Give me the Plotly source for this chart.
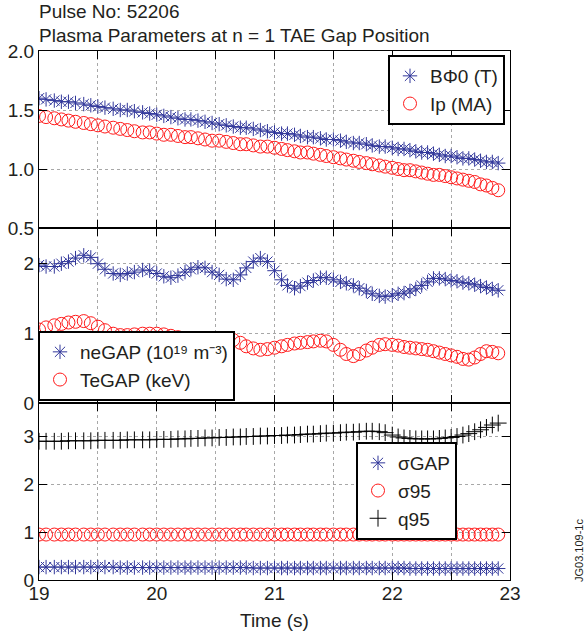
import plotly.graph_objects as go

# ---------------- data ----------------
time_s = [19.00, 19.06, 19.13, 19.19, 19.25, 19.31, 19.38, 19.44, 19.50, 19.56, 19.63, 19.69, 19.75, 19.81, 19.88, 19.94,
          20.00, 20.06, 20.12, 20.18, 20.24, 20.29, 20.35, 20.41, 20.47, 20.53, 20.59, 20.65, 20.71, 20.76, 20.82, 20.88, 20.94,
          21.00, 21.06, 21.11, 21.17, 21.22, 21.28, 21.33, 21.39, 21.44, 21.50, 21.56, 21.61, 21.67, 21.72, 21.78, 21.83, 21.89, 21.94,
          22.00, 22.05, 22.10, 22.15, 22.20, 22.25, 22.30, 22.35, 22.40, 22.45, 22.50, 22.55, 22.60, 22.65, 22.70, 22.75, 22.80, 22.85, 22.90]

b_phi0 = [1.60, 1.59, 1.58, 1.57, 1.57, 1.56, 1.55, 1.54, 1.53, 1.52, 1.51, 1.50, 1.50, 1.49, 1.48, 1.47,
          1.46, 1.45, 1.44, 1.43, 1.42, 1.42, 1.41, 1.40, 1.39, 1.38, 1.37, 1.36, 1.35, 1.35, 1.34, 1.33, 1.32,
          1.31, 1.30, 1.30, 1.29, 1.28, 1.27, 1.27, 1.26, 1.25, 1.25, 1.24, 1.23, 1.22, 1.22, 1.21, 1.20, 1.19, 1.19,
          1.18, 1.17, 1.17, 1.16, 1.15, 1.14, 1.14, 1.13, 1.12, 1.11, 1.11, 1.10, 1.09, 1.09, 1.08, 1.07, 1.06, 1.06, 1.05]

ip_ma = [1.45, 1.44, 1.43, 1.42, 1.41, 1.40, 1.39, 1.38, 1.37, 1.36, 1.35, 1.34, 1.33, 1.32, 1.31, 1.31,
         1.30, 1.29, 1.29, 1.28, 1.27, 1.27, 1.26, 1.25, 1.24, 1.24, 1.23, 1.22, 1.21, 1.21, 1.20, 1.19, 1.19,
         1.18, 1.17, 1.16, 1.15, 1.14, 1.14, 1.13, 1.12, 1.11, 1.10, 1.09, 1.08, 1.07, 1.06, 1.05, 1.04, 1.03, 1.02,
         1.01, 1.00, 0.99, 0.99, 0.98, 0.97, 0.96, 0.95, 0.95, 0.94, 0.93, 0.92, 0.91, 0.90, 0.89, 0.87, 0.86, 0.84, 0.82]

ne_gap = [1.97, 1.95, 1.95, 1.99, 2.02, 2.07, 2.11, 2.08, 1.99, 1.91, 1.85, 1.83, 1.85, 1.87, 1.90, 1.89,
          1.85, 1.81, 1.79, 1.82, 1.87, 1.91, 1.94, 1.93, 1.87, 1.83, 1.77, 1.76, 1.83, 1.93, 2.02, 2.07, 2.02,
          1.89, 1.76, 1.68, 1.64, 1.67, 1.72, 1.75, 1.79, 1.79, 1.76, 1.73, 1.71, 1.68, 1.64, 1.60, 1.56, 1.53, 1.52,
          1.54, 1.56, 1.57, 1.60, 1.63, 1.68, 1.73, 1.78, 1.78, 1.77, 1.75, 1.74, 1.72, 1.71, 1.69, 1.67, 1.65, 1.63, 1.61]

te_gap = [1.05, 1.08, 1.11, 1.13, 1.15, 1.16, 1.17, 1.14, 1.09, 1.04, 0.99, 0.97, 0.97, 0.98, 0.99, 0.99,
          0.99, 0.98, 0.96, 0.94, 0.92, 0.90, 0.89, 0.89, 0.90, 0.91, 0.92, 0.90, 0.86, 0.81, 0.78, 0.76, 0.77,
          0.79, 0.81, 0.83, 0.85, 0.86, 0.87, 0.88, 0.89, 0.88, 0.83, 0.76, 0.70, 0.67, 0.70, 0.75, 0.79, 0.83, 0.84,
          0.83, 0.82, 0.80, 0.79, 0.78, 0.77, 0.76, 0.74, 0.72, 0.70, 0.68, 0.66, 0.63, 0.62, 0.65, 0.70, 0.74, 0.73, 0.71]

sigma_gap = [0.27, 0.27, 0.27, 0.27, 0.27, 0.27, 0.27, 0.27, 0.27, 0.27, 0.27, 0.26, 0.26, 0.26, 0.26, 0.26,
             0.26, 0.26, 0.26, 0.26, 0.26, 0.26, 0.26, 0.26, 0.26, 0.26, 0.26, 0.26, 0.26, 0.26, 0.25, 0.25, 0.25,
             0.25, 0.25, 0.25, 0.25, 0.25, 0.25, 0.25, 0.25, 0.25, 0.25, 0.25, 0.25, 0.25, 0.25, 0.25, 0.25, 0.25, 0.25,
             0.25, 0.25, 0.25, 0.24, 0.24, 0.24, 0.24, 0.24, 0.24, 0.24, 0.24, 0.24, 0.24, 0.24, 0.24, 0.24, 0.24, 0.24, 0.24]

sigma_95 = [0.95, 0.95, 0.95, 0.95, 0.95, 0.95, 0.95, 0.95, 0.95, 0.95, 0.95, 0.95, 0.95, 0.95, 0.95, 0.95,
            0.95, 0.95, 0.95, 0.95, 0.95, 0.95, 0.95, 0.95, 0.95, 0.95, 0.95, 0.95, 0.95, 0.95, 0.95, 0.95, 0.95,
            0.95, 0.95, 0.95, 0.95, 0.95, 0.95, 0.95, 0.95, 0.95, 0.95, 0.95, 0.95, 0.95, 0.95, 0.95, 0.95, 0.95, 0.95,
            0.95, 0.95, 0.95, 0.95, 0.95, 0.95, 0.95, 0.95, 0.95, 0.95, 0.95, 0.95, 0.95, 0.95, 0.95, 0.95, 0.95, 0.95, 0.95]

q95 = [2.90, 2.90, 2.90, 2.90, 2.91, 2.91, 2.91, 2.91, 2.92, 2.92, 2.92, 2.92, 2.93, 2.93, 2.93, 2.93,
       2.94, 2.94, 2.94, 2.95, 2.95, 2.96, 2.96, 2.97, 2.97, 2.98, 2.98, 2.99, 2.99, 3.00, 3.00, 3.01, 3.01,
       3.02, 3.02, 3.03, 3.03, 3.04, 3.05, 3.05, 3.06, 3.07, 3.07, 3.08, 3.09, 3.09, 3.10, 3.11, 3.11, 3.10, 3.08,
       3.03, 2.99, 2.97, 2.96, 2.95, 2.95, 2.95, 2.95, 2.96, 2.97, 2.98, 3.00, 3.03, 3.06, 3.10, 3.14, 3.19, 3.24, 3.28]

x_tickvals = [19, 20, 21, 22, 23]
x_minor = [19.5, 20.5, 21.5, 22.5]
top_ticks = [0.5, 1.0, 1.5, 2.0]
top_ticktext = ["0.5", "1.0", "1.5", "2.0"]
mid_ticks = [0, 1, 2]
bot_ticks = [0, 1, 2, 3]

# ---------------- style ----------------
BLUE = "#30369a"
RED = "#ff1a1a"
TXT = "#231f20"
FONT = "Liberation Sans, Arial, Helvetica, sans-serif"

W, H = 585, 640
ML, MR, MT, MB = 39, 75, 51, 60
PH = H - MT - MB
PW = W - ML - MR


def py(ypx):
    return (H - MB - ypx) / PH


def px(xpx):
    return (xpx - ML) / PW


d_bot = [0, py(403)]
d_mid = [py(403), py(228)]
d_top = [py(228), 1]

fig = go.Figure()

star = dict(symbol="asterisk-open", size=12, color=BLUE, line=dict(color=BLUE, width=1))
circ = dict(symbol="circle-open", size=13, color=RED, line=dict(color=RED, width=1))
plus = dict(symbol="cross-thin-open", size=12, color="black", line=dict(color="black", width=1))

fig.add_trace(go.Scatter(x=time_s, y=b_phi0, mode="markers", marker=star, name="BΦ0 (T)",
                         xaxis="x", yaxis="y", legend="legend"))
fig.add_trace(go.Scatter(x=time_s, y=ip_ma, mode="markers", marker=circ, name="Ip (MA)",
                         xaxis="x", yaxis="y", legend="legend"))

fig.add_trace(go.Scatter(x=time_s, y=ne_gap, mode="markers", marker=star,
                         name="neGAP (10¹⁹ m⁻³)",
                         xaxis="x2", yaxis="y2", legend="legend2"))
fig.add_trace(go.Scatter(x=time_s, y=te_gap, mode="markers", marker=circ, name="TeGAP (keV)",
                         xaxis="x2", yaxis="y2", legend="legend2"))

fig.add_trace(go.Scatter(x=time_s, y=sigma_gap, mode="markers", marker=star, name="σGAP",
                         xaxis="x3", yaxis="y3", legend="legend3"))
fig.add_trace(go.Scatter(x=time_s, y=sigma_95, mode="markers", marker=circ, name="σ95",
                         xaxis="x3", yaxis="y3", legend="legend3"))
fig.add_trace(go.Scatter(x=time_s, y=q95, mode="markers", marker=plus, name="q95",
                         xaxis="x3", yaxis="y3", legend="legend3"))

axis_common = dict(showline=True, linecolor="black", linewidth=1, mirror="ticks",
                   ticks="inside", ticklen=8, tickwidth=1, tickcolor="black",
                   showgrid=True, gridcolor="#a8a8a8", griddash="dot", gridwidth=1,
                   zeroline=False, automargin=False,
                   tickfont=dict(size=19, color=TXT, family=FONT))

xcommon = dict(axis_common, range=[19, 23], tickmode="array", tickvals=x_tickvals,
               minor=dict(tickmode="array", tickvals=x_minor, ticks="inside", ticklen=8,
                          tickcolor="black", showgrid=True, gridcolor="#a8a8a8",
                          griddash="dot", gridwidth=1))

legend_common = dict(bgcolor="white", bordercolor="black", borderwidth=2,
                     font=dict(size=19, color=TXT, family=FONT), itemwidth=30,
                     itemclick=False, itemdoubleclick=False)

fig.update_layout(
    width=W, height=H,
    margin=dict(l=ML, r=MR, t=MT, b=MB, autoexpand=False),
    paper_bgcolor="white", plot_bgcolor="white",
    font=dict(family=FONT, size=19, color=TXT),
    xaxis=dict(xcommon, anchor="y", domain=[0, 1], showticklabels=False),
    yaxis=dict(axis_common, anchor="x", domain=d_top, range=[0.5, 2.0], tickmode="array",
               tickvals=top_ticks, ticktext=top_ticktext),
    xaxis2=dict(xcommon, anchor="y2", domain=[0, 1], showticklabels=False, matches="x"),
    yaxis2=dict(axis_common, anchor="x2", domain=d_mid, range=[0, 2.5], tickmode="array",
                tickvals=mid_ticks),
    xaxis3=dict(xcommon, anchor="y3", domain=[0, 1], matches="x", ticklabelstandoff=-4),
    yaxis3=dict(axis_common, anchor="x3", domain=d_bot, range=[0, 3.7], tickmode="array",
                tickvals=bot_ticks),
    legend=dict(legend_common, x=px(505), y=py(55), xanchor="right", yanchor="top"),
    legend2=dict(legend_common, x=px(38), y=py(401), xanchor="left", yanchor="bottom"),
    legend3=dict(legend_common, x=px(457), y=py(442), xanchor="right", yanchor="top"),
    showlegend=True,
    annotations=[
        dict(text="Pulse No: 52206", x=px(37), y=py(12), xref="paper", yref="paper",
             xanchor="left", yanchor="middle", showarrow=False, font=dict(size=19, color=TXT)),
        dict(text="Plasma Parameters at n = 1 TAE Gap Position", x=px(37), y=py(36),
             xref="paper", yref="paper", xanchor="left", yanchor="middle", showarrow=False,
             font=dict(size=19, color=TXT)),
        dict(text="Time (s)", x=0.5, y=py(620), xref="paper", yref="paper",
             xanchor="center", yanchor="middle", showarrow=False, font=dict(size=19, color=TXT)),
        dict(text="JG03.109-1c", x=px(579), y=py(551), xref="paper", yref="paper",
             xanchor="center", yanchor="middle", textangle=-90, showarrow=False,
             font=dict(size=11, color=TXT)),
    ],
)

fig.write_html("out.html", config={"displayModeBar": False},
               post_script="document.body.style.margin='0';document.body.style.padding='0';")
